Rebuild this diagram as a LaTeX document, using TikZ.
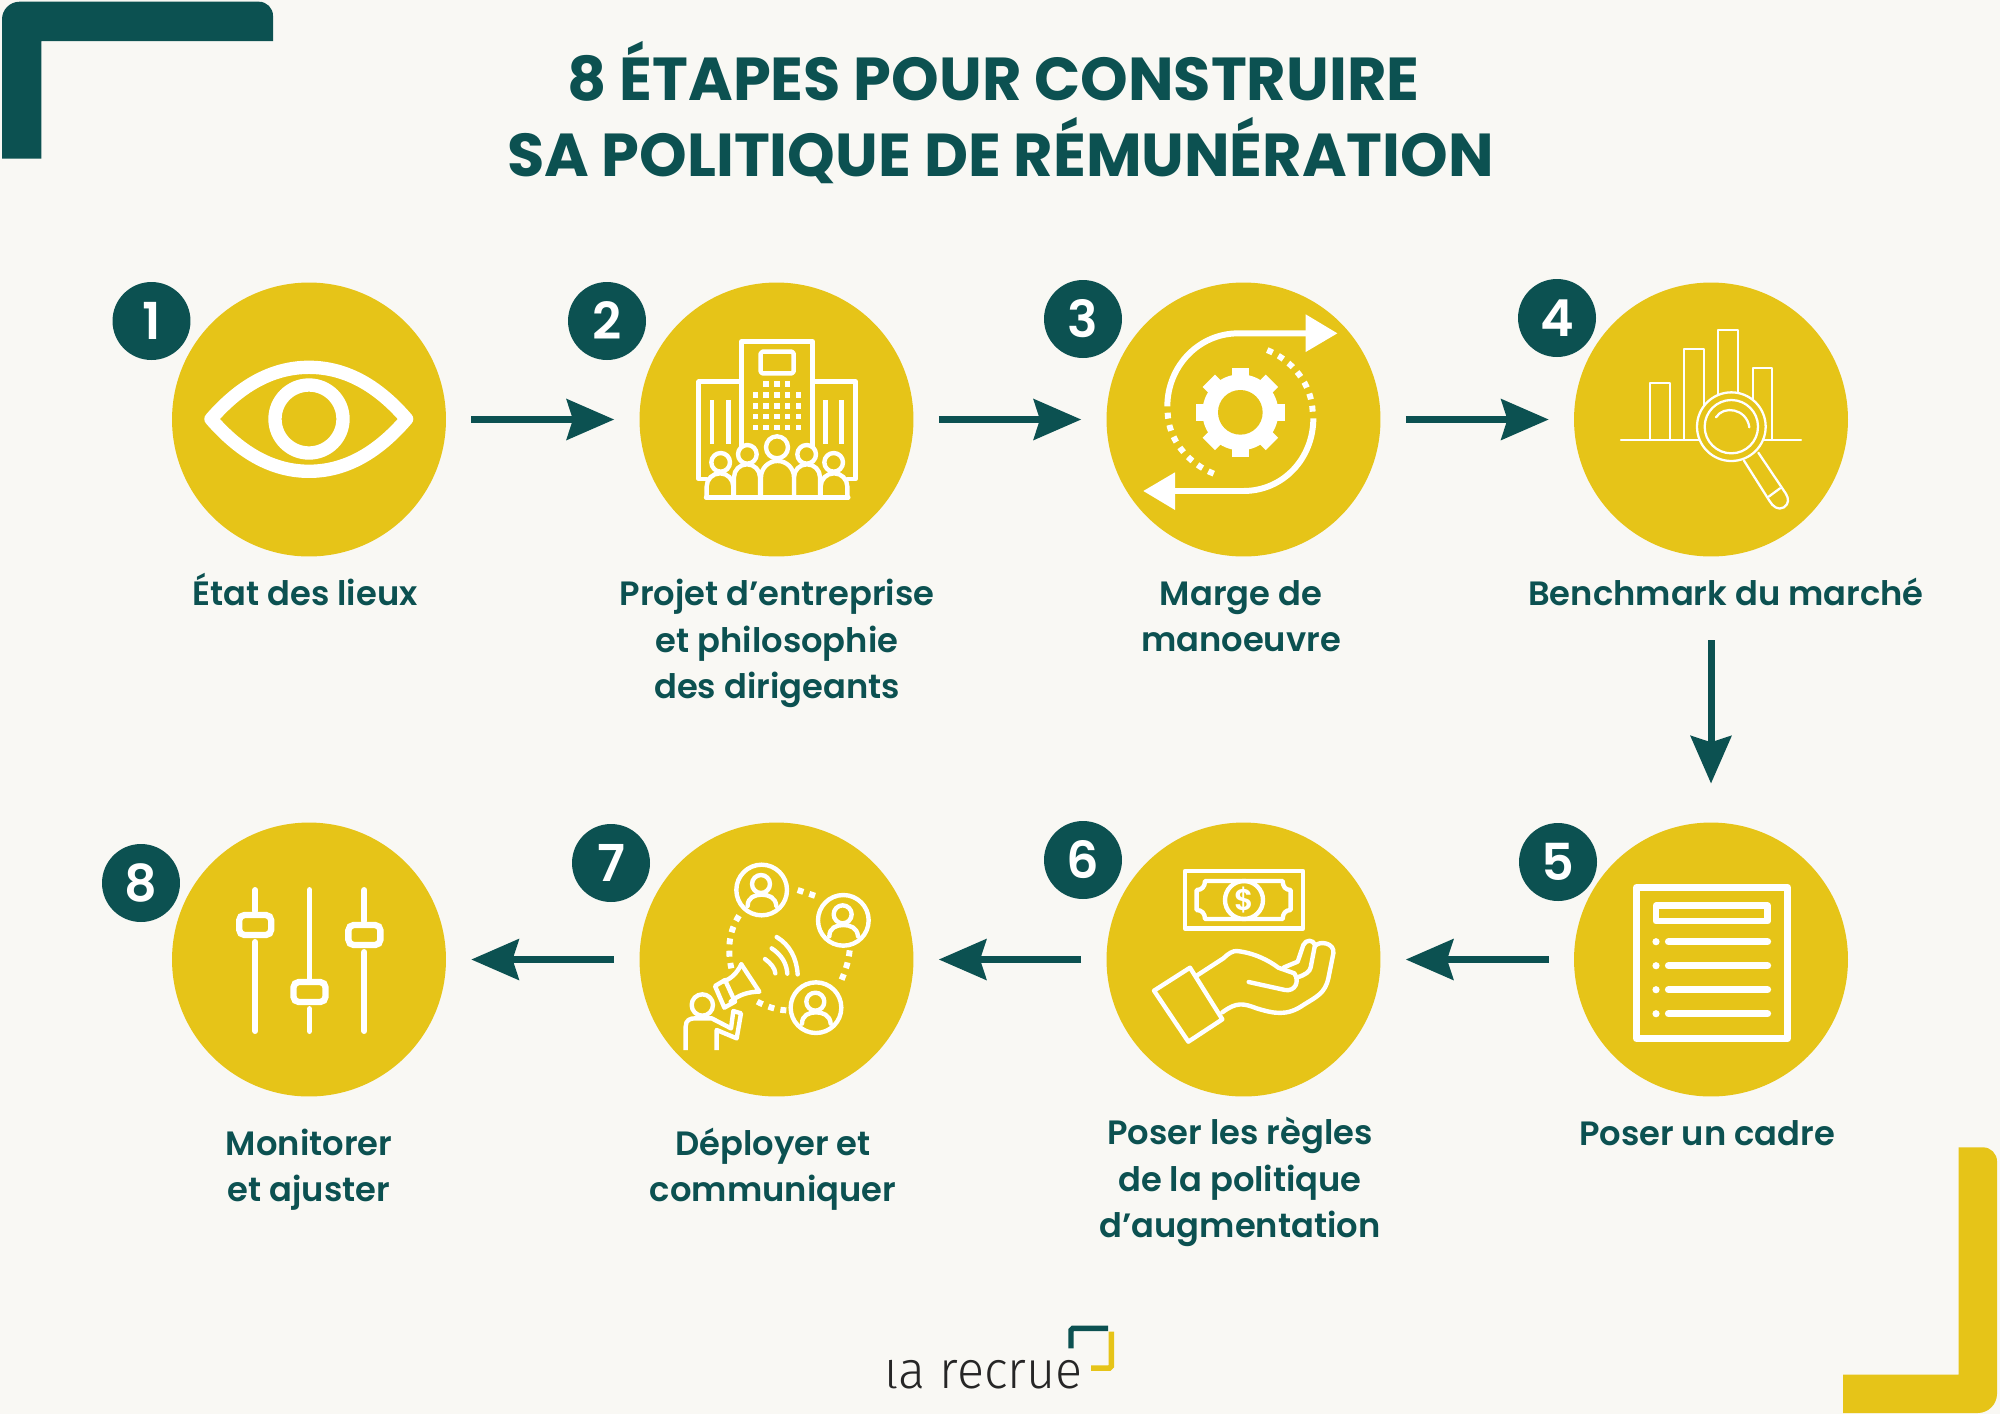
\documentclass[tikz,border=0pt]{standalone}
\usepackage{fontspec}
\setmainfont{Poppins}
\newfontfamily\titlefont{Poppins Bold}
\newfontfamily\labelfont{Poppins SemiBold}
\newfontfamily\logofont{Fira Sans Light}
\usetikzlibrary{arrows.meta}
\definecolor{paper}{HTML}{F9F8F4}
\definecolor{deepteal}{HTML}{0C5151}
\definecolor{mustard}{HTML}{E6C418}
\begin{document}
\begin{tikzpicture}[x=0.02cm,y=-0.02cm]
    \tikzstyle{stepcircle}=[circle,fill=mustard,minimum size=5.48cm,inner sep=0pt]
    \tikzstyle{stepnum}=[circle,fill=deepteal,text=white,minimum size=1.56cm,inner sep=0pt,font=\labelfont\fontsize{29}{29}\selectfont]
    \tikzstyle{steplabel}=[text=deepteal,align=center,font=\labelfont\fontsize{19.2}{26.4}\selectfont]
    \tikzstyle{headline}=[text=deepteal,font=\titlefont\fontsize{34.5}{40}\selectfont]
    \tikzstyle{flowarrow}=[draw=deepteal,line width=4pt,shorten <=14.2pt,shorten >=14.2pt,-{Stealth[length=27pt,width=23pt,inset=3.5pt]}]
    \tikzstyle{iconline}=[draw=white,line width=2.5pt,line join=round,line cap=round]
    \useasboundingbox (0,0) rectangle (2000,1414);
    \fill[paper] (0,0) rectangle (2000,1414);
    \fill[deepteal] (2,158.7) [rounded corners=10pt] -- (2,1.7) [rounded corners=8pt] -- (273,1.7) [sharp corners] -- (273,41) -- (41.3,41) -- (41.3,158.7) -- cycle;
    \fill[mustard] (1843,1374.7) -- (1958.7,1374.7) -- (1958.7,1147.3) [rounded corners=8pt] -- (1997,1147.3) [rounded corners=11pt] -- (1997,1413) [sharp corners] -- (1843,1413) -- cycle;
    \node[headline] (title1) at (993.5,71) {8 ÉTAPES POUR CONSTRUIRE};
    \node[headline] (title2) at (1000.5,151) {SA POLITIQUE DE RÉMUNÉRATION};
    \node[stepcircle] (c1) at (309,419.5) {};
    \node[stepcircle] (c2) at (776.5,419.5) {};
    \node[stepcircle] (c3) at (1243.5,419.5) {};
    \node[stepcircle] (c4) at (1711,419.5) {};
    \node[stepcircle] (c5) at (1711,959.5) {};
    \node[stepcircle] (c6) at (1243.5,959.5) {};
    \node[stepcircle] (c7) at (776.5,959.5) {};
    \node[stepcircle] (c8) at (309,959.5) {};
    \node[stepnum] (n1) at (151.5,321) {1};
    \node[stepnum] (n2) at (607,321) {2};
    \node[stepnum] (n3) at (1083,319) {3};
    \node[stepnum] (n4) at (1557,318) {4};
    \node[stepnum] (n5) at (1558,862) {5};
    \node[stepnum] (n6) at (1083,860) {6};
    \node[stepnum] (n7) at (611,863) {7};
    \node[stepnum] (n8) at (141,883) {8};
    \draw[flowarrow] (c1) -- (c2);
    \draw[flowarrow] (c2) -- (c3);
    \draw[flowarrow] (c3) -- (c4);
    \draw[flowarrow,shorten <=47.6pt,shorten >=22pt] (c4) -- (c5);
    \draw[flowarrow] (c5) -- (c6);
    \draw[flowarrow] (c6) -- (c7);
    \draw[flowarrow] (c7) -- (c8);
    \node[steplabel] (l1) at (305,589.5) {État des lieux};
    \node[steplabel] (l2) at (777,643.5) {Projet d’entreprise\\et philosophie\\des dirigeants};
    \node[steplabel] (l3) at (1241,616) {Marge de\\manoeuvre};
    \node[steplabel] (l4) at (1726,592) {Benchmark du marché};
    \node[steplabel] (l5) at (1707,1133) {Poser un cadre};
    \node[steplabel] (l6) at (1240,1182) {Poser les règles\\de la politique\\d’augmentation};
    \node[steplabel] (l7) at (773,1169) {Déployer et\\communiquer};
    \node[steplabel] (l8) at (309,1170) {Monitorer\\et ajuster};
    \draw[white,line width=7.6pt,line join=round] (211,419) .. controls (238,388) and (270,367.3) .. (309,367.3) .. controls (348,367.3) and (380,388) .. (406.6,419) .. controls (380,450) and (348,471.3) .. (309,471.3) .. controls (270,471.3) and (238,450) .. (211,419) -- cycle;
    \draw[white,line width=7.6pt] (309,419) circle (34);
    \begin{scope}[shift={(680,325)},x=0.006667cm,y=-0.006667cm]
        \draw[iconline] (185,365) -- (185,49) -- (398,49) -- (398,365);
        \draw[iconline] (185,170) -- (56,170) -- (56,462) -- (80,462);
        \draw[iconline] (398,170) -- (527,170) -- (527,462) -- (502,462);
        \draw[iconline,rounded corners=1pt] (242,80) rectangle (341,145);
        \foreach \barx in {96,145,436,484}
            \draw[white,line width=2.8pt] (\barx,226) -- (\barx,356);
        \foreach \winx in {258,291,323}
            \fill[white] (\winx-8,169) rectangle (\winx+8,185);
        \foreach \winy in {210,243,275,308}
            \foreach \winx in {226,258,291,323,356}
                \fill[white] (\winx-8,\winy-8) rectangle (\winx+8,\winy+8);
        \foreach \headx/\heady/\headr in {122/412/28,202/388/28,461/412/28,380/388/28,291/367/33}
            \draw[iconline,fill=mustard] (\headx,\heady) circle (\headr);
        \foreach \bodyl/\bodyr/\bodyt/\bodyc in {80/160/445/7.5pt,422/502/445/7.5pt,162/240/418/7.3pt,342/420/418/7.3pt,243/342/408/9.3pt}
            \draw[iconline,fill=mustard,rounded corners=\bodyc] (\bodyl,517) -- (\bodyl,\bodyt) -- (\bodyr,\bodyt) -- (\bodyr,517);
        \draw[iconline] (78,517) -- (505,517);
    \end{scope}
    \begin{scope}[shift={(1130,305)},x=0.006667cm,y=-0.006667cm]
        \draw[white,line width=3.4pt] (112,304) .. controls (112,185) and (205,85) .. (325,85) -- (530,85);
        \fill[white] (527,28) -- (622,85) -- (527,141) -- cycle;
        \draw[white,line width=3.4pt] (550,340) .. controls (550,460) and (460,558) .. (340,558) -- (130,558);
        \fill[white] (135,502) -- (40,558) -- (135,615) -- cycle;
        \draw[white,line width=3.4pt,dash pattern=on 3.4pt off 3.7pt] (548,320) .. controls (545,240) and (490,165) .. (406,133);
        \draw[white,line width=3.4pt,dash pattern=on 3.4pt off 3.7pt] (113,323) .. controls (115,400) and (170,475) .. (256,508);
        \fill[white] (331,322) circle (114);
        \foreach \toothang in {0,45,...,315}
            \draw[white,line width=10pt] ([shift={(331,322)}]\toothang:90) -- ([shift={(331,322)}]\toothang:134);
        \fill[mustard] (331,322) circle (67);
    \end{scope}
    \begin{scope}[shift={(1610,320)},x=0.006667cm,y=-0.006667cm]
        \tikzstyle{thinline}=[draw=white,line width=1.3pt,line join=round,line cap=round]
        \draw[thinline] (120,360) -- (120,188) -- (179,188) -- (179,360);
        \draw[thinline] (222,360) -- (222,86) -- (281,86) -- (281,360);
        \draw[thinline] (325,360) -- (325,30) -- (384,30) -- (384,360);
        \draw[thinline] (428,360) -- (428,145) -- (486,145) -- (486,360);
        \draw[thinline] (33,361) -- (573,361);
        \draw[thinline,fill=mustard] (364,320) circle (103);
        \draw[thinline] (364,320) circle (80);
        \draw[thinline] (318,292) .. controls (340,255) and (410,265) .. (418,322);
        \draw[thinline] (402,422) -- (478,542) .. controls (488,560) and (505,572) .. (522,562) .. controls (537,552) and (537,535) .. (527,520) -- (445,398);
        \draw[thinline] (476,530) -- (510,505);
    \end{scope}
    \draw[white,line width=3.8pt,line join=round] (1636.4,887.3) rectangle (1787.6,1038.7);
    \draw[white,line width=3.9pt,line join=round] (1656,905.7) rectangle (1767.5,921);
    \foreach \rowy in {941.7,965.7,989.7,1013.7} {
        \draw[white,line width=4.1pt,line cap=round] (1668.5,\rowy) -- (1767.5,\rowy);
        \fill[white] (1656,\rowy) circle (3.6);
    }
    \begin{scope}[shift={(1140,860)},x=0.006667cm,y=-0.006667cm]
        \draw[iconline] (135,33) rectangle (489,206);
        \draw[iconline] (195,63) -- (428,63) .. controls (428,80) and (437,90) .. (452,90) -- (452,150) .. controls (437,150) and (428,160) .. (428,177) -- (195,177) .. controls (195,160) and (185,150) .. (170,150) -- (170,90) .. controls (185,90) and (195,80) .. (195,63) -- cycle;
        \draw[iconline] (312,120) circle (57);
        \node[text=white,inner sep=0pt,font=\labelfont\fontsize{17}{17}\selectfont] (dollar) at (312,120) {\$};
        \draw[iconline] (150,323) -- (42,392) -- (145,545) -- (247,478) -- cycle;
        \draw[iconline] (170,347) -- (250,295) .. controls (265,280) and (280,272) .. (290,273) .. controls (340,278) and (385,300) .. (415,323) -- (463,340) .. controls (480,365) and (465,395) .. (435,390) -- (326,366);
        \draw[iconline] (432,322) -- (473,305) -- (490,255) .. controls (497,238) and (520,238) .. (525,255) -- (512,322) .. controls (510,335) and (495,345) .. (472,352);
        \draw[iconline] (525,258) .. controls (540,240) and (585,250) .. (580,280) -- (565,355) .. controls (555,400) and (530,410) .. (490,435) .. controls (440,470) and (400,460) .. (350,445) .. controls (310,430) and (290,425) .. (247,457);
    \end{scope}
    \begin{scope}[shift={(670,855)},x=0.006667cm,y=-0.006667cm]
        \foreach \ringx/\ringy in {275/105,520/196,438/458} {
            \begin{scope}[shift={(\ringx,\ringy)}]
                \draw[iconline] (0,0) circle (76);
                \draw[iconline] (-2,-18) circle (27);
                \draw[iconline] (-42,48) .. controls (-42,22) and (-20,14) .. (0,14) .. controls (20,14) and (42,22) .. (44,48);
            \end{scope}
        }
        \draw[white,line width=3.4pt,dash pattern=on 3.4pt off 3.6pt] (383,105) -- (437,123);
        \draw[white,line width=3.4pt,dash pattern=on 3.4pt off 3.6pt] (539,286) .. controls (536,320) and (525,350) .. (514,376);
        \draw[white,line width=3.4pt,dash pattern=on 3.4pt off 3.6pt] (349,466) .. controls (320,465) and (290,455) .. (258,438);
        \draw[white,line width=3.4pt,dash pattern=on 3.4pt off 3.6pt] (207,182) .. controls (180,225) and (170,275) .. (184,340);
        \draw[iconline] (320,246) .. controls (360,270) and (380,310) .. (383,358);
        \draw[iconline] (305,280) .. controls (335,300) and (350,325) .. (352,356);
        \draw[iconline] (285,312) .. controls (303,325) and (315,340) .. (316,355);
        \draw[iconline] (214,328) -- (268,410) .. controls (235,410) and (205,420) .. (182,440);
        \draw[iconline] (214,328) .. controls (200,355) and (185,370) .. (160,380);
        \draw[iconline] (135,393) -- (165,375) -- (195,440) -- (163,458) -- cycle;
        \draw[iconline] (97,450) circle (32);
        \draw[iconline,line cap=butt] (47,585) -- (47,515) .. controls (47,495) and (60,490) .. (75,490) -- (125,490) -- (183,520) -- (190,468) -- (213,475) -- (200,550) -- (140,525) -- (140,585);
    \end{scope}
    \foreach \slidex/\handley in {255.2/925,309.5/992,364.4/935} {
        \draw[white,line width=3.4pt,line cap=round] (\slidex,890) -- (\slidex,\handley-14);
        \draw[white,line width=3.4pt,line cap=round] (\slidex,\handley+17) -- (\slidex,1031);
        \draw[white,line width=3.6pt,rounded corners=3pt] (\slidex-16,\handley-10) rectangle (\slidex+16,\handley+10);
    }
    \node[text=black!85,inner sep=0pt,anchor=base,font=\logofont\fontsize{30}{30}\selectfont] (logo) at (983.5,1388) {\scalebox{0.955}[1]{\scalebox{1}[0.72]{l}a recrue}};
    \draw[mustard,line width=3.1pt,rounded corners=1pt] (1111.3,1331.7) -- (1111.3,1368) -- (1091,1368);
    \draw[deepteal,line width=3.1pt,rounded corners=1pt] (1071,1348.3) -- (1071,1328.4) -- (1108,1328.4);
\end{tikzpicture}
\end{document}
